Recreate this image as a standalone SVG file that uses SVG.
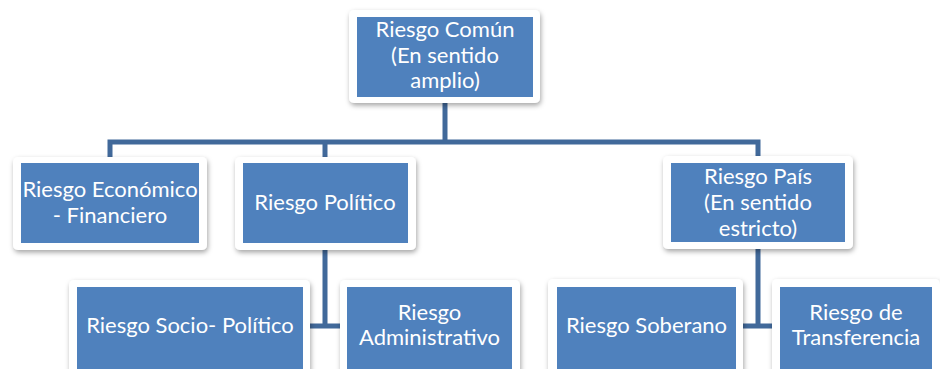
<svg xmlns="http://www.w3.org/2000/svg" width="940" height="369" viewBox="0 0 940 369">
  <defs>
    <filter id="shadow" x="-10%" y="-10%" width="125%" height="130%">
      <feDropShadow dx="1" dy="2.5" stdDeviation="2.5" flood-color="#000" flood-opacity="0.35"/>
    </filter>
    <style>
      .frame { fill: #ffffff; filter: url(#shadow); }
      .box { fill: #4f81bd; }
      .label { font-family: Lato, "Liberation Sans", sans-serif; font-size: 22px; fill: #ffffff; text-anchor: middle; }
      .wire { fill: none; stroke: #41699a; stroke-width: 5; stroke-linejoin: miter; }
    </style>
  </defs>
  <rect width="940" height="369" fill="#ffffff"/>

  <!-- connectors -->
  <g id="connectors">
    <path class="wire" d="M445,102 V142"/>
    <path class="wire" d="M110,158 V142 H758 V158"/>
    <path class="wire" d="M325,142 V158"/>
    <path class="wire" d="M325,250 V326 M310,326 H340"/>
    <path class="wire" d="M758,249 V326 M743,326 H772"/>
  </g>

  <!-- root -->
  <g id="riesgo-comun">
    <rect class="frame" x="349" y="10" width="191" height="93" rx="5"/>
    <rect class="box" x="357" y="17" width="176" height="80"/>
    <text class="label" x="445" y="37">Riesgo Común</text>
    <text class="label" x="445" y="63">(En sentido</text>
    <text class="label" x="445" y="88">amplio)</text>
  </g>

  <!-- second level -->
  <g id="riesgo-economico">
    <rect class="frame" x="13" y="157" width="194" height="93" rx="5"/>
    <rect class="box" x="21" y="163" width="178" height="80"/>
    <text class="label" x="110" y="197">Riesgo Económico</text>
    <text class="label" x="110" y="223">- Financiero</text>
  </g>

  <g id="riesgo-politico">
    <rect class="frame" x="235" y="157" width="181" height="93" rx="5"/>
    <rect class="box" x="243" y="163" width="165" height="80"/>
    <text class="label" x="325" y="210">Riesgo Político</text>
  </g>

  <g id="riesgo-pais">
    <rect class="frame" x="663" y="156" width="190" height="93" rx="5"/>
    <rect class="box" x="671" y="163" width="174" height="79"/>
    <text class="label" x="758" y="184">Riesgo País</text>
    <text class="label" x="758" y="210">(En sentido</text>
    <text class="label" x="758" y="236">estricto)</text>
  </g>

  <!-- third level -->
  <g id="riesgo-socio-politico">
    <rect class="frame" x="69" y="280" width="241" height="100" rx="5"/>
    <rect class="box" x="77" y="287" width="226" height="90"/>
    <text class="label" x="190" y="333">Riesgo Socio- Político</text>
  </g>

  <g id="riesgo-administrativo">
    <rect class="frame" x="340" y="280" width="180" height="100" rx="5"/>
    <rect class="box" x="347" y="287" width="165" height="90"/>
    <text class="label" x="429.5" y="320">Riesgo</text>
    <text class="label" x="429.5" y="345">Administrativo</text>
  </g>

  <g id="riesgo-soberano">
    <rect class="frame" x="548" y="279" width="195" height="100" rx="5"/>
    <rect class="box" x="557" y="287" width="179" height="90"/>
    <text class="label" x="646.5" y="333">Riesgo Soberano</text>
  </g>

  <g id="riesgo-transferencia">
    <rect class="frame" x="772" y="279" width="168" height="100" rx="5"/>
    <rect class="box" x="780" y="287" width="152" height="90"/>
    <text class="label" x="856" y="320">Riesgo de</text>
    <text class="label" x="856" y="345">Transferencia</text>
  </g>
</svg>
